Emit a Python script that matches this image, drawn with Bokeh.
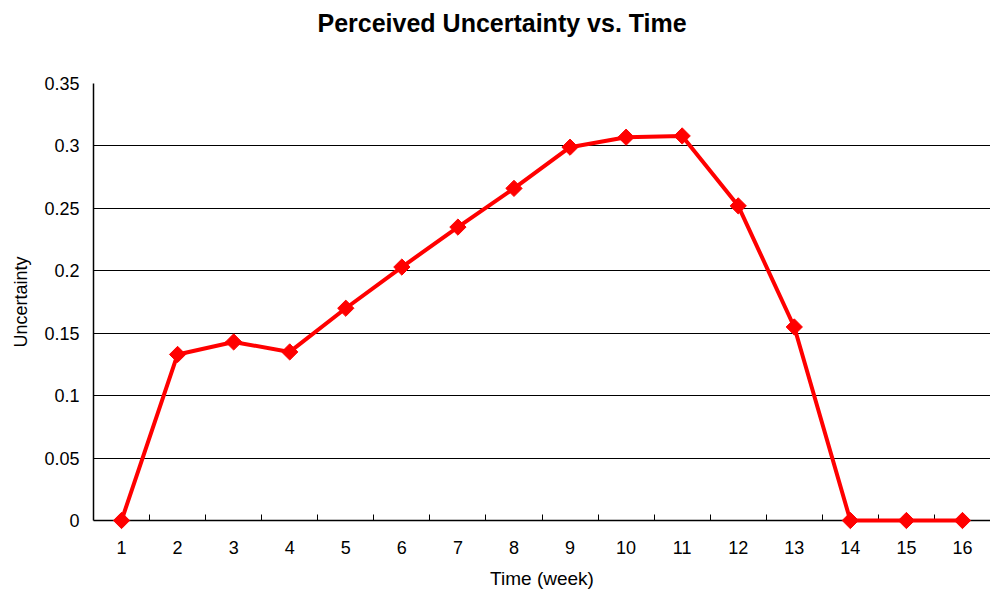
from math import pi
from bokeh.plotting import figure
from bokeh.models import (ColumnDataSource, FixedTicker, NumeralTickFormatter,
                          Range1d, Title)
from bokeh.embed import file_html
from bokeh.resources import INLINE

# Weekly perceived uncertainty
weeks = [1, 2, 3, 4, 5, 6, 7, 8, 9, 10, 11, 12, 13, 14, 15, 16]
uncertainty = [0.0, 0.133, 0.143, 0.135, 0.170, 0.203, 0.235, 0.266,
               0.299, 0.307, 0.308, 0.252, 0.155, 0.0, 0.0, 0.0]
y_ticks = [0, 0.05, 0.1, 0.15, 0.2, 0.25, 0.3, 0.35]

FONT = "Liberation Sans"

src = ColumnDataSource(data=dict(week=weeks, u=uncertainty))

p = figure(width=990, height=593, output_backend="svg", toolbar_location=None,
           x_range=Range1d(0.5, 16.5), y_range=Range1d(0, 0.35),
           min_border_left=93, min_border_right=0, min_border_top=83,
           min_border_bottom=73)
p.outline_line_color = None
p.background_fill_color = "white"
p.border_fill_color = "white"

p.title.text = "Perceived Uncertainty vs. Time"
p.title.align = "left"
p.title.offset = 224
p.title.standoff = 10
p.title.text_font = FONT
p.title.text_font_size = "25px"
p.title.text_font_style = "bold"
p.title.text_color = "black"

# blank band between the title and the plot area
p.add_layout(Title(text=" ", text_font_size="10px", standoff=29), "above")

# drawn on the overlay level so markers on the zero line are not cut off
line_r = p.line("week", "u", source=src, line_color="#ff0000", line_width=4,
                level="overlay")
mark_r = p.scatter("week", "u", source=src, marker="square", size=11.5,
                   angle=pi / 4, fill_color="#ff0000", line_color="#ff0000",
                   level="overlay")

# x axis: labels at weeks, small ticks between categories
xa = p.xaxis[0]
xa.ticker = FixedTicker(ticks=weeks, minor_ticks=[w + 0.5 for w in weeks[:-1]])
xa.major_tick_in = 0
xa.major_tick_out = 0
xa.minor_tick_in = 6
xa.minor_tick_out = 0
xa.minor_tick_line_color = "black"
xa.axis_line_color = "black"
xa.axis_line_width = 1.5
xa.major_label_standoff = 20
xa.major_label_text_font = FONT
xa.major_label_text_font_size = "18px"
xa.major_label_text_color = "black"
xa.axis_label = "Time (week)"
xa.axis_label_text_font = FONT
xa.axis_label_text_font_size = "19px"
xa.axis_label_text_font_style = "normal"
xa.axis_label_text_color = "black"
xa.axis_label_standoff = 11

# y axis
ya = p.yaxis[0]
ya.ticker = FixedTicker(ticks=y_ticks)
ya.formatter = NumeralTickFormatter(format="0.[00]")
ya.major_tick_in = 0
ya.major_tick_out = 0
ya.minor_tick_line_color = None
ya.axis_line_color = "black"
ya.axis_line_width = 1.5
ya.major_label_standoff = 14
ya.major_label_text_font = FONT
ya.major_label_text_font_size = "18px"
ya.major_label_text_color = "black"
ya.axis_label = "Uncertainty"
ya.axis_label_text_font = FONT
ya.axis_label_text_font_size = "18px"
ya.axis_label_text_font_style = "normal"
ya.axis_label_text_color = "black"
ya.axis_label_standoff = 10

p.xgrid.grid_line_color = None
p.ygrid.grid_line_color = "black"
p.ygrid.grid_line_width = 1

open("out.html", "w").write(file_html(p, INLINE))
